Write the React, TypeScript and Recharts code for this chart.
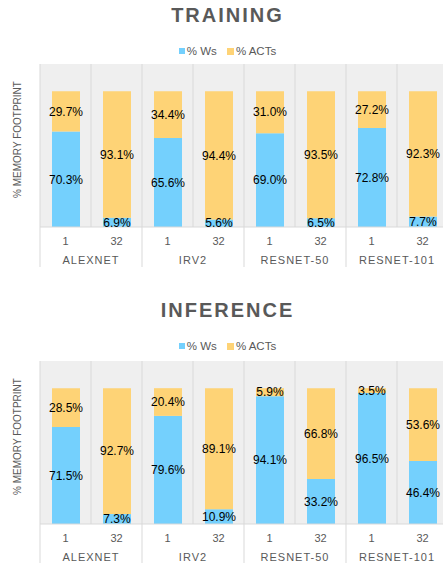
import React from "react";
import { BarChart, Bar, XAxis, YAxis, CartesianGrid, LabelList } from "recharts";

const models = ["ALEXNET", "IRV2", "RESNET-50", "RESNET-101"];
const batchSizes = ["1", "32"];

const trainingWs = [70.3, 6.9, 65.6, 5.6, 69.0, 6.5, 72.8, 7.7];
const trainingActs = [29.7, 93.1, 34.4, 94.4, 31.0, 93.5, 27.2, 92.3];

const inferenceWs = [71.5, 7.3, 79.6, 10.9, 94.1, 33.2, 96.5, 46.4];
const inferenceActs = [28.5, 92.7, 20.4, 89.1, 5.9, 66.8, 3.5, 53.6];

const WS_COLOR = "#74d0fd";
const ACTS_COLOR = "#fed376";
const GRAY = "#595959";
const LINE = "#d9d9d9";
const FONT = "'Liberation Sans', Arial, Helvetica, sans-serif";

const CHART_W = 455;
const CHART_H = 280;

function buildRows(ws: number[], acts: number[]) {
  const rows: any[] = [];
  models.forEach((m, mi) => {
    batchSizes.forEach((b, bi) => {
      const i = mi * batchSizes.length + bi;
      rows.push({ key: `${m}-${b}`, model: m, size: b, ws: ws[i], acts: acts[i] });
    });
  });
  return rows;
}

const fmt = (v: any) => `${Number(v).toFixed(1)}%`;

function SizeTick(props: any) {
  const { x, y, payload } = props;
  return (
    <text x={x} y={y + 18} textAnchor="middle" fill={GRAY} fontSize={11} fontFamily={FONT}>
      {payload.value}
    </text>
  );
}

function ModelTick(props: any) {
  const { x, y, payload, index, width, visibleTicksCount } = props;
  const band = width / (visibleTicksCount || 8);
  if (index % batchSizes.length !== 0) {
    if (index === visibleTicksCount - 1) {
      const right = x + band / 2;
      return <line x1={right} x2={right} y1={y - 20} y2={y + 20} stroke={LINE} />;
    }
    return null;
  }
  const left = x - band / 2;
  const center = x + band / 2;
  return (
    <g>
      <line x1={left} x2={left} y1={y - 20} y2={y + 20} stroke={LINE} />
      <text
        x={center}
        y={y + 17}
        textAnchor="middle"
        fill={GRAY}
        fontSize={11}
        letterSpacing={1}
        fontFamily={FONT}
      >
        {payload.value}
      </text>
    </g>
  );
}

function MemoryChart({ title, ws, acts, height, shift }: any) {
  const data = buildRows(ws, acts);
  return (
    <div style={{ position: "relative", width: CHART_W, height }}>
      <div
        style={{
          position: "absolute",
          top: 5 + shift,
          left: 0,
          width: CHART_W,
          textAlign: "center",
          fontFamily: FONT,
          fontWeight: "bold",
          fontSize: 20,
          lineHeight: "20px",
          letterSpacing: 2,
          color: GRAY,
        }}
      >
        {title}
      </div>
      <div
        style={{
          position: "absolute",
          top: 44 + shift,
          left: 0,
          width: CHART_W,
          display: "flex",
          justifyContent: "center",
          alignItems: "center",
          fontFamily: FONT,
          fontSize: 11.5,
          lineHeight: "14px",
          color: GRAY,
        }}
      >
        <span style={{ width: 6, height: 6, background: WS_COLOR, marginRight: 2 }} />
        <span style={{ marginRight: 10 }}>% Ws</span>
        <span style={{ width: 7, height: 7, background: ACTS_COLOR, marginRight: 2 }} />
        <span>% ACTs</span>
      </div>
      <div style={{ position: "absolute", top: 0, left: 0 }}>
        <BarChart width={CHART_W} height={CHART_H} data={data} margin={{ top: 64, right: 7, bottom: 13, left: 0 }}>
          <CartesianGrid
            xAxisId="a"
            fill="#efefef"
            stroke={LINE}
            horizontal={false}
            verticalCoordinatesGenerator={({ offset }: any) =>
              data.map((_, i) => offset.left + (i * offset.width) / data.length).concat(offset.left + offset.width)
            }
          />
          <XAxis
            xAxisId="a"
            dataKey="key"
            height={20}
            axisLine={{ stroke: LINE }}
            tickLine={false}
            tickSize={0}
            tickMargin={0}
            interval={0}
            tick={(p: any) => <SizeTick {...p} payload={{ value: data[p.index]?.size }} />}
          />
          <XAxis
            xAxisId="b"
            dataKey="key"
            height={20}
            axisLine={false}
            tickLine={false}
            tickSize={0}
            tickMargin={0}
            interval={0}
            tick={(p: any) => <ModelTick {...p} payload={{ value: data[p.index]?.model }} />}
          />
          <YAxis
            width={40}
            domain={[0, 120]}
            tick={false}
            axisLine={false}
            tickLine={false}
            label={{
              value: "% MEMORY FOOTPRINT",
              angle: -90,
              position: "center",
              dx: -3,
              dy: -6,
              fill: GRAY,
              fontSize: 10,
              fontFamily: FONT,
            }}
          />
          <Bar xAxisId="a" dataKey="ws" stackId="m" fill={WS_COLOR} barSize={28} isAnimationActive={false}>
            <LabelList dataKey="ws" position="center" formatter={fmt} fill="#000" fontSize={12} fontFamily={FONT} />
          </Bar>
          <Bar xAxisId="a" dataKey="acts" stackId="m" fill={ACTS_COLOR} barSize={28} isAnimationActive={false}>
            <LabelList dataKey="acts" position="center" formatter={fmt} fill="#000" fontSize={12} fontFamily={FONT} />
          </Bar>
        </BarChart>
      </div>
    </div>
  );
}

export default function App() {
  return (
    <div
      style={{
        position: "absolute",
        top: 0,
        left: 0,
        width: 443,
        height: 563,
        overflow: "hidden",
        background: "#fff",
      }}
    >
      <MemoryChart title="TRAINING" ws={trainingWs} acts={trainingActs} height={297} shift={0} />
      <MemoryChart title="INFERENCE" ws={inferenceWs} acts={inferenceActs} height={266} shift={-2} />
    </div>
  );
}
